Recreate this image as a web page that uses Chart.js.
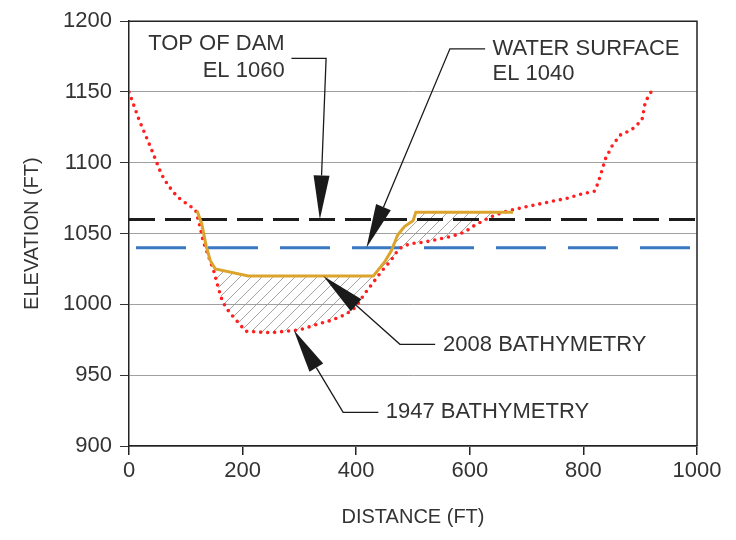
<!DOCTYPE html>
<html>
<head>
<meta charset="utf-8">
<script src="https://cdn.jsdelivr.net/npm/chart.js@4.4.1/dist/chart.umd.min.js"></script>
<style>
    html, body { margin: 0; padding: 0; background: #fff; }
    #wrap { width: 736px; height: 540px; }
</style>
</head>
<body>
<div id="wrap"><canvas id="section_chart" width="736" height="540"></canvas></div>
<script>
// 1947 bathymetry (red dotted)
const dist1947 = [0, 18, 38, 57, 69, 85, 105, 117, 125, 131, 140, 149, 155, 162, 170, 184, 197, 206, 250, 300,
    332, 358, 382, 399, 414, 429, 446, 461, 473, 482, 497, 520, 544, 567, 591, 605, 623, 644, 667, 700,
    747, 772, 797, 820, 825, 833, 839, 852, 866, 884, 903, 909, 919];
const elev1947 = [1150, 1130, 1111, 1092, 1084, 1076, 1070, 1067, 1055, 1044, 1034, 1024, 1015, 1005, 998, 991, 985, 981, 980, 982,
    986, 989, 993, 998, 1007, 1015, 1024, 1031, 1038, 1041, 1043, 1044, 1046, 1048, 1051, 1055, 1059, 1063, 1066, 1069,
    1073, 1075, 1078, 1080, 1085, 1095, 1103, 1113, 1120, 1123, 1130, 1143, 1150];

// 2008 bathymetry (gold)
const dist2008 = [120, 128, 136, 143, 152, 210, 430, 450, 462, 473, 485, 500, 505, 676];
const elev2008 = [1066, 1057, 1041, 1031, 1025, 1020, 1020, 1030, 1038, 1049, 1055, 1059, 1065, 1065];

const damCrest = 1060;
const waterSurface = 1040;
const axisEnds = [0, 1000];

const xTicks = [0, 200, 400, 600, 800, 1000];
const yTicks = [900, 950, 1000, 1050, 1100, 1150, 1200];

const toPoints = (xs, ys) => xs.map((x, i) => ({x: x, y: ys[i]}));

/* hatch pattern for the sediment area */
function makeHatch()
{
    let n = 11;
    let c = document.createElement('canvas');
    c.width = n;
    c.height = n;
    let g = c.getContext('2d');
    g.strokeStyle = '#9a9a9a';
    g.lineWidth = 0.9;
    g.beginPath();
    g.moveTo(0, n); g.lineTo(n, 0);
    g.moveTo(-1, 1); g.lineTo(1, -1);
    g.moveTo(n - 1, n + 1); g.lineTo(n + 1, n - 1);
    g.stroke();
    return g.createPattern(c, 'repeat');
}

// callouts: text, where the text sits, leader and arrow tip (data units)
const callouts = [
    {lines: ['TOP OF DAM', 'EL 1060'], align: 'right', tx: 274, ty: [1183.8, 1164.8],
     path: [[286, 1173.7], [347, 1173.7], [336, damCrest]]},
    {lines: ['WATER SURFACE', 'EL 1040'], align: 'left', tx: 640, ty: [1180.3, 1162.7],
     path: [[627, 1180.5], [565, 1180.5], [418, waterSurface]]},
    {lines: ['2008 BATHYMETRY'], align: 'left', tx: 553, ty: [971.1],
     path: [[539, 971.8], [477, 971.8], [342, 1020]]},
    {lines: ['1947 BATHYMETRY'], align: 'left', tx: 452, ty: [924.2],
     path: [[439, 923.7], [377, 923.7], [290, 982]]}
];

const calloutPlugin = {
    id: 'callouts',
    afterDraw(chart)
    {
        const ctx = chart.ctx;
        const xs = chart.scales.x;
        const ys = chart.scales.y;
        const area = chart.chartArea;

        ctx.save();
        // frame on top and right
        ctx.strokeStyle = '#222';
        ctx.lineWidth = 1.5;
        ctx.beginPath();
        ctx.moveTo(area.left, area.top);
        ctx.lineTo(area.right, area.top);
        ctx.lineTo(area.right, area.bottom);
        ctx.stroke();

        ctx.font = '22px "Liberation Sans", Arial, sans-serif';
        ctx.textBaseline = 'middle';

        callouts.forEach(c =>
        {
            ctx.fillStyle = '#333';
            ctx.textAlign = c.align;
            c.lines.forEach((t, i) => ctx.fillText(t, xs.getPixelForValue(c.tx), ys.getPixelForValue(c.ty[i])));

            let pts = c.path.map(p => [xs.getPixelForValue(p[0]), ys.getPixelForValue(p[1])]);
            let tip = pts[pts.length - 1];
            let prev = pts[pts.length - 2];
            let dx = tip[0] - prev[0], dy = tip[1] - prev[1];
            let len = Math.hypot(dx, dy);
            dx /= len; dy /= len;
            let headLen = 44, half = 8;
            let bx = tip[0] - dx * headLen, by = tip[1] - dy * headLen;

            ctx.strokeStyle = '#1a1a1a';
            ctx.lineWidth = 1.3;
            ctx.beginPath();
            ctx.moveTo(pts[0][0], pts[0][1]);
            for (let i = 1; i < pts.length - 1; i++) ctx.lineTo(pts[i][0], pts[i][1]);
            ctx.lineTo(bx, by);
            ctx.stroke();

            ctx.fillStyle = '#1a1a1a';
            ctx.beginPath();
            ctx.moveTo(tip[0], tip[1]);
            ctx.lineTo(bx - dy * half, by + dx * half);
            ctx.lineTo(bx + dy * half, by - dx * half);
            ctx.closePath();
            ctx.fill();
        });
        ctx.restore();
    }
};

const ctx = document.getElementById('section_chart');

new Chart(ctx, {
    type: 'line',
    data: {
        datasets: [
            {
                label: '2008 Bathymetry',
                data: toPoints(dist2008, elev2008),
                borderColor: '#dca42c',
                borderWidth: 3,
                pointRadius: 0,
                fill: {target: 1, above: makeHatch(), below: 'rgba(0,0,0,0)'}
            },
            {
                label: '1947 Bathymetry',
                data: toPoints(dist1947, elev1947),
                borderColor: '#ff1f1f',
                borderWidth: 3.6,
                borderDash: [0, 7],
                borderCapStyle: 'round',
                pointRadius: 0,
                fill: false
            },
            {
                label: 'Top of dam',
                data: toPoints(axisEnds, [damCrest, damCrest]),
                borderColor: '#1c1c1c',
                borderWidth: 3,
                borderDash: [26, 10],
                pointRadius: 0,
                fill: false
            },
            {
                label: 'Water surface',
                data: toPoints(axisEnds, [waterSurface, waterSurface]),
                borderColor: '#3b78c4',
                borderWidth: 3,
                borderDash: [50, 22],
                borderDashOffset: 65,
                pointRadius: 0,
                fill: false
            }
        ]
    },
    options: {
        responsive: false,
        animation: false,
        devicePixelRatio: 1,
        layout: {padding: {top: 20, right: 39, left: 0, bottom: 0}},
        plugins: {
            legend: {display: false},
            tooltip: {enabled: false},
            filler: {drawTime: 'beforeDatasetsDraw'}
        },
        scales: {
            x: {
                type: 'linear',
                min: 0,
                max: 1000,
                afterBuildTicks: s => { s.ticks = xTicks.map(v => ({value: v})); },
                afterFit: s => { s.height = 94; },
                ticks: {
                    padding: 3,
                    maxRotation: 0,
                    color: '#333',
                    callback: v => String(v),
                    font: {family: '"Liberation Sans", Arial, sans-serif', size: 22}
                },
                grid: {drawOnChartArea: false, tickLength: 9, tickColor: '#222', lineWidth: 1.5},
                border: {color: '#222', width: 1.5},
                title: {
                    display: true,
                    text: 'DISTANCE (FT)',
                    color: '#333',
                    padding: {top: 0, bottom: 11},
                    font: {family: '"Liberation Sans", Arial, sans-serif', size: 20}
                }
            },
            y: {
                min: 900,
                max: 1200,
                afterBuildTicks: s => { s.ticks = yTicks.map(v => ({value: v})); },
                afterFit: s => { s.width = 129; },
                ticks: {
                    padding: 8,
                    color: '#333',
                    callback: v => String(v),
                    font: {family: '"Liberation Sans", Arial, sans-serif', size: 22}
                },
                grid: {color: '#a0a0a0', lineWidth: 1, tickLength: 9, tickColor: '#333'},
                border: {color: '#222', width: 1.5},
                title: {
                    display: true,
                    text: 'ELEVATION (FT)',
                    color: '#333',
                    padding: {top: 20, bottom: 0},
                    font: {family: '"Liberation Sans", Arial, sans-serif', size: 20}
                }
            }
        }
    },
    plugins: [calloutPlugin]
});
</script>
</body>
</html>
